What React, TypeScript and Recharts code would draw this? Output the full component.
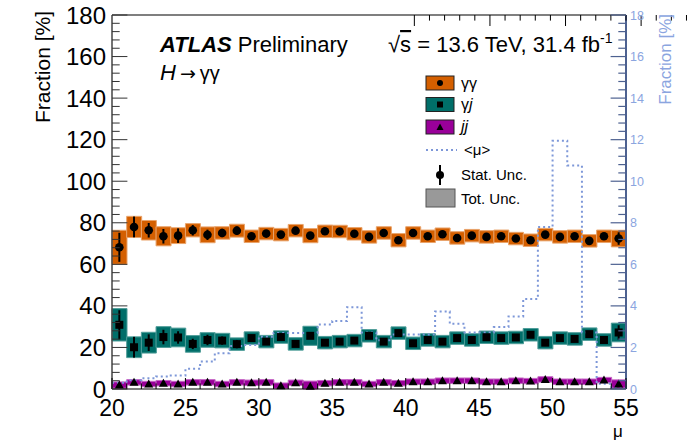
import React from 'react';
import { ComposedChart, Bar, Scatter, Line, XAxis, YAxis, ErrorBar } from 'recharts';

// lower edge of each <mu> bin (bin width 1)
const binLow = [20, 21, 22, 23, 24, 25, 26, 27, 28, 29, 30, 31, 32, 33, 34, 35, 36, 37, 38, 39, 40, 41, 42, 43, 44, 45, 46, 47, 48, 49, 50, 51, 52, 53, 54];

// gamma-gamma fraction [%], stat and total uncertainty
const ggFrac = [68.2, 78.0, 76.4, 73.5, 73.8, 76.4, 74.2, 75.1, 76.2, 73.5, 74.8, 74.3, 76.2, 73.8, 75.9, 75.8, 74.7, 73.2, 75.1, 71.6, 75.1, 73.5, 74.5, 72.7, 73.8, 73.2, 73.5, 72.4, 71.6, 74.3, 73.2, 73.5, 71.3, 73.5, 72.4];
const ggStat = [7, 5, 3.5, 3.5, 3.5, 2.5, 2.5, 2, 2, 1.5, 1.5, 1.5, 1.5, 1.5, 1.5, 1.5, 1.5, 1.5, 1.5, 1.5, 1.5, 1.5, 1.5, 1.5, 1.5, 1.5, 1.5, 1.5, 1.5, 1.5, 1.5, 1.5, 1.5, 1.5, 3];
const ggTot = [8.2, 5.1, 4.7, 4.6, 3.8, 3.2, 3.8, 3, 3.1, 3, 3, 3, 3, 3.4, 3, 3, 3, 3, 3, 3.2, 3, 3, 3, 3, 3, 3, 3, 3, 3, 3, 3, 3, 3, 3, 4];

// gamma-jet
const gjFrac = [30.9, 20.1, 22.3, 25.0, 24.8, 21.7, 23.6, 23.3, 21.6, 24.5, 22.8, 25.0, 21.7, 25.6, 22.3, 22.8, 23.3, 25.6, 22.8, 26.9, 22.0, 23.6, 22.8, 24.5, 23.6, 24.9, 24.5, 24.8, 26.1, 22.3, 24.5, 24.1, 26.4, 23.6, 27.2];
const gjStat = [7, 5, 4, 3.5, 3, 2.5, 2.5, 2, 2, 1.5, 1.5, 1.5, 1.5, 1.5, 1.5, 1.5, 1.5, 1.5, 1.5, 1.5, 1.5, 1.5, 1.5, 1.5, 1.5, 1.5, 1.5, 1.5, 1.5, 1.5, 1.5, 1.5, 1.5, 1.5, 3.5];
const gjTot = [7.8, 5, 5, 5, 4.5, 4, 3.5, 3.5, 3, 3, 3, 3, 3, 4.6, 3, 3, 3, 3, 3, 3, 3, 3, 3, 3, 3, 3, 3, 3, 3, 3, 3, 3, 3, 3, 4.5];

// jet-jet
const jjFrac = [1.9, 3.2, 2.4, 2.8, 2.4, 3.2, 3.2, 2.4, 3.2, 3.0, 3.2, 1.6, 3.0, 1.3, 2.8, 3.2, 3.2, 2.4, 3.2, 2.8, 3.5, 3.5, 4.0, 4.0, 4.0, 3.5, 3.5, 4.0, 3.8, 4.6, 3.5, 3.5, 3.5, 4.3, 2.4];
const jjStat = [0.8, 0.8, 0.8, 0.8, 0.8, 0.8, 0.8, 0.8, 0.8, 0.8, 0.8, 0.8, 0.8, 0.8, 0.8, 0.8, 0.8, 0.8, 0.8, 0.8, 0.8, 0.8, 0.8, 0.8, 0.8, 0.8, 0.8, 0.8, 0.8, 0.8, 0.8, 0.8, 0.8, 0.8, 1];
const jjTot = [1.5, 1.3, 1.3, 1.3, 1.3, 1.3, 1.3, 1.3, 1.3, 1.3, 1.3, 1.3, 1.3, 2.5, 1.3, 1.3, 1.3, 1.3, 1.3, 1.3, 1.3, 1.3, 1.3, 1.3, 1.3, 1.3, 1.3, 1.3, 1.3, 1.3, 1.3, 1.3, 1.3, 1.3, 2];

// <mu> distribution, right axis [%]
const muFrac = [0.3, 0.42, 0.52, 0.6, 0.65, 0.97, 1.32, 1.72, 2.07, 2.12, 2.52, 2.7, 2.7, 2.7, 3.1, 3.27, 3.94, 2.72, 2.35, 2.62, 2.62, 2.62, 3.73, 3.14, 2.72, 2.72, 2.98, 3.49, 4.33, 7.8, 11.95, 10.76, 2.72, 0.25, 0.05];

const xLabels = [20, 25, 30, 35, 40, 45, 50, 55];
const leftLabels = [0, 20, 40, 60, 80, 100, 120, 140, 160, 180];
const rightLabels = [0, 2, 4, 6, 8, 10, 12, 14, 16, 18];

const xTicks: number[] = [];
for (let i = 20; i <= 55; i++) xTicks.push(i);
const leftTicks: number[] = [];
for (let i = 0; i <= 45; i++) leftTicks.push(i * 4);
const rightTicks: number[] = [];
for (let i = 0; i <= 45; i++) rightTicks.push(Math.round(i * 4) / 10);

const ORANGE = '#d45f00';
const TEAL = '#006e69';
const MAGENTA = '#990099';
const MU_BLUE = '#7d97d8';
const RIGHT_LABEL = '#8ba5df';
const RIGHT_AXIS = '#4d6190';
const FONT = '"Liberation Sans", Arial, Helvetica, sans-serif';

const rows = binLow.map((lo, i) => ({
  bin: String(lo),
  x: lo + 0.5,
  gg: ggFrac[i],
  ggErr: ggStat[i],
  ggBox: [Math.max(0, ggFrac[i] - ggTot[i]), ggFrac[i] + ggTot[i]],
  gj: gjFrac[i],
  gjErr: gjStat[i],
  gjBox: [Math.max(0, gjFrac[i] - gjTot[i]), gjFrac[i] + gjTot[i]],
  jj: jjFrac[i],
  jjErr: jjStat[i],
  jjBox: [Math.max(0, jjFrac[i] - jjTot[i]), jjFrac[i] + jjTot[i]],
}));

// step histogram: one point per lower edge plus the closing edge
const muRows = [
  ...binLow.map((lo, i) => ({ x: lo, mu: muFrac[i] })),
  { x: 55, mu: muFrac[muFrac.length - 1] },
];

const isIn = (list: number[], v: number) => list.some((l) => Math.abs(l - v) < 1e-6);

function LeftTick({ x, y, payload }: any) {
  const major = isIn(leftLabels, payload.value);
  return (
    <g>
      <line x1={x} x2={x + (major ? 15.4 : 7.7)} y1={y} y2={y} stroke="#333" strokeWidth={1} />
      {major && (
        <text x={x - 6} y={y + 8.5} textAnchor="end" fontSize={24} fill="#000" fontFamily={FONT}>
          {payload.value}
        </text>
      )}
    </g>
  );
}

function RightTick({ x, y, payload }: any) {
  const major = isIn(rightLabels, payload.value);
  return (
    <g>
      <line x1={x} x2={x - (major ? 15.4 : 7.7)} y1={y} y2={y} stroke={RIGHT_AXIS} strokeWidth={1.2} />
      {major && (
        <text x={x + 4} y={y + 4.5} textAnchor="start" fontSize={12.5} fill={RIGHT_LABEL} fontFamily={FONT}>
          {Math.round(payload.value)}
        </text>
      )}
    </g>
  );
}

function BottomTick({ x, y, payload }: any) {
  const major = isIn(xLabels, payload.value);
  return (
    <g>
      <line x1={x} x2={x} y1={y} y2={y - (major ? 11 : 5.6)} stroke="#000" strokeWidth={1} />
      {major && (
        <text x={x} y={y + 27} textAnchor="middle" fontSize={23} fill="#000" fontFamily={FONT}>
          {payload.value}
        </text>
      )}
    </g>
  );
}

function TopTick({ x, y, payload }: any) {
  const major = isIn(xLabels, payload.value);
  return <line x1={x} x2={x} y1={y} y2={y + (major ? 11 : 5.6)} stroke="#000" strokeWidth={1} />;
}

const dot = (p: any) => <circle cx={p.cx} cy={p.cy} r={4.3} fill="#000" />;
const square = (p: any) => <rect x={p.cx - 4} y={p.cy - 4} width={8} height={8} fill="#000" />;
const triangle = (p: any) => (
  <polygon points={`${p.cx},${p.cy - 4.5} ${p.cx - 4.5},${p.cy + 3.5} ${p.cx + 4.5},${p.cy + 3.5}`} fill="#000" />
);

function Overlay() {
  return (
    <svg width={689} height={440} style={{ position: 'absolute', left: 0, top: 0, pointerEvents: 'none' }} fontFamily={FONT}>
      {/* axis titles */}
      <text transform="rotate(-90)" x={-11} y={50} textAnchor="end" fontSize={21} fill="#000">Fraction [%]</text>
      <text transform="rotate(-90)" x={-14} y={671} textAnchor="end" fontSize={17} fill={RIGHT_LABEL}>Fraction [%]</text>
      <text x={618} y={437} textAnchor="middle" fontSize={17} fill="#000">μ</text>

      {/* labels */}
      <text x={160} y={52} fontSize={22} fill="#000">
        <tspan fontWeight={700} fontStyle="italic">ATLAS</tspan>
        <tspan dx={6}>Preliminary</tspan>
      </text>
      <text x={160} y={80} fontSize={22} fill="#000">
        <tspan fontStyle="italic">H</tspan>
        <tspan dx={4} fontFamily="DejaVu Sans" fontSize={19}>→</tspan>
        <tspan dx={4} fontSize={20}>γγ</tspan>
      </text>
      <text x={388} y={52} fontSize={22} fill="#000">
        <tspan>√</tspan>
        <tspan textDecoration="overline">s</tspan>
        <tspan> = 13.6 TeV, 31.4 fb</tspan>
        <tspan fontSize={14} dy={-9}>-1</tspan>
      </text>

      {/* legend */}
      <rect x={426} y={76} width={28} height={14} fill={ORANGE} stroke="#222" strokeWidth={1} />
      <circle cx={440} cy={83} r={3} fill="#000" />
      <text x={461} y={88.5} fontSize={16} fill="#000">γγ</text>

      <rect x={426} y={97.5} width={28} height={14} fill={TEAL} stroke="#222" strokeWidth={1} />
      <rect x={437} y={101.5} width={6} height={6} fill="#000" />
      <text x={461} y={110} fontSize={16} fill="#000">γ<tspan fontStyle="italic">j</tspan></text>

      <rect x={426} y={120} width={28} height={14} fill={MAGENTA} stroke="#222" strokeWidth={1} />
      <polygon points="440,123.5 436.5,130 443.5,130" fill="#000" />
      <text x={461} y={132} fontSize={16} fill="#000" fontStyle="italic">jj</text>

      <line x1={426} x2={457} y1={150} y2={150} stroke={MU_BLUE} strokeWidth={2} strokeDasharray="2 3" />
      <text x={464} y={155} fontSize={15} fill="#000">&lt;μ&gt;</text>

      <line x1={440} x2={440} y1={165} y2={185} stroke="#000" strokeWidth={2} />
      <circle cx={440} cy={175} r={4} fill="#000" />
      <text x={461} y={180} fontSize={15} fill="#000">Stat. Unc.</text>

      <rect x={426} y={189} width={29} height={18} fill="#999" stroke="#555" strokeWidth={1} />
      <text x={461} y={204} fontSize={15} fill="#000">Tot. Unc.</text>
    </svg>
  );
}

export default function App() {
  return (
    <div style={{ position: 'absolute', left: 0, top: 0, width: 689, height: 440, background: '#fff' }}>
      <ComposedChart
        width={689}
        height={440}
        data={rows}
        margin={{ top: 14, right: 0, bottom: 0, left: 0 }}
        barCategoryGap={0}
        barGap={0}
      >
        {/* visible axes first, so hidden ones do not push them outwards */}
        <XAxis
          xAxisId="num"
          dataKey="x"
          type="number"
          domain={[20, 55]}
          ticks={xTicks}
          interval={0}
          height={51}
          tickSize={0}
          tickMargin={0}
          tickLine={false}
          tick={<BottomTick />}
          axisLine={{ stroke: '#000', strokeWidth: 1.2 }}
        />
        <XAxis
          xAxisId="top"
          orientation="top"
          type="number"
          domain={[20, 55]}
          ticks={xTicks}
          interval={0}
          height={1}
          tickSize={0}
          tickMargin={0}
          tickLine={false}
          tick={<TopTick />}
          axisLine={{ stroke: '#000', strokeWidth: 1.2 }}
        />
        <XAxis xAxisId="b1" dataKey="bin" type="category" height={0} hide />
        <XAxis xAxisId="b2" dataKey="bin" type="category" height={0} hide />
        <XAxis xAxisId="b3" dataKey="bin" type="category" height={0} hide />
        <YAxis
          yAxisId="left"
          type="number"
          domain={[0, 180]}
          ticks={leftTicks}
          interval={0}
          width={112}
          tickSize={0}
          tickMargin={0}
          tickLine={false}
          tick={<LeftTick />}
          axisLine={{ stroke: '#444', strokeWidth: 1.5 }}
        />
        <YAxis
          yAxisId="right"
          orientation="right"
          type="number"
          domain={[0, 18]}
          ticks={rightTicks}
          interval={0}
          width={63}
          tickSize={0}
          tickMargin={0}
          tickLine={false}
          tick={<RightTick />}
          axisLine={{ stroke: RIGHT_AXIS, strokeWidth: 2 }}
        />

        <Bar xAxisId="b1" yAxisId="left" dataKey="ggBox" fill={ORANGE} stroke="#e9a46c" strokeWidth={1} isAnimationActive={false} />
        <Bar xAxisId="b2" yAxisId="left" dataKey="gjBox" fill={TEAL} stroke="#4f9d99" strokeWidth={1} isAnimationActive={false} />
        <Bar xAxisId="b3" yAxisId="left" dataKey="jjBox" fill={MAGENTA} stroke="#c565c5" strokeWidth={1} isAnimationActive={false} />

        <Line
          data={muRows}
          xAxisId="num"
          yAxisId="right"
          dataKey="mu"
          type="stepAfter"
          stroke={MU_BLUE}
          strokeWidth={2}
          strokeDasharray="2 3"
          dot={false}
          isAnimationActive={false}
        />

        <Scatter xAxisId="num" yAxisId="left" dataKey="gg" shape={dot} isAnimationActive={false}>
          <ErrorBar dataKey="ggErr" direction="y" width={0} stroke="#000" strokeWidth={2} />
        </Scatter>
        <Scatter xAxisId="num" yAxisId="left" dataKey="gj" shape={square} isAnimationActive={false}>
          <ErrorBar dataKey="gjErr" direction="y" width={0} stroke="#000" strokeWidth={2} />
        </Scatter>
        <Scatter xAxisId="num" yAxisId="left" dataKey="jj" shape={triangle} isAnimationActive={false}>
          <ErrorBar dataKey="jjErr" direction="y" width={0} stroke="#000" strokeWidth={2} />
        </Scatter>
      </ComposedChart>
      <Overlay />
    </div>
  );
}
